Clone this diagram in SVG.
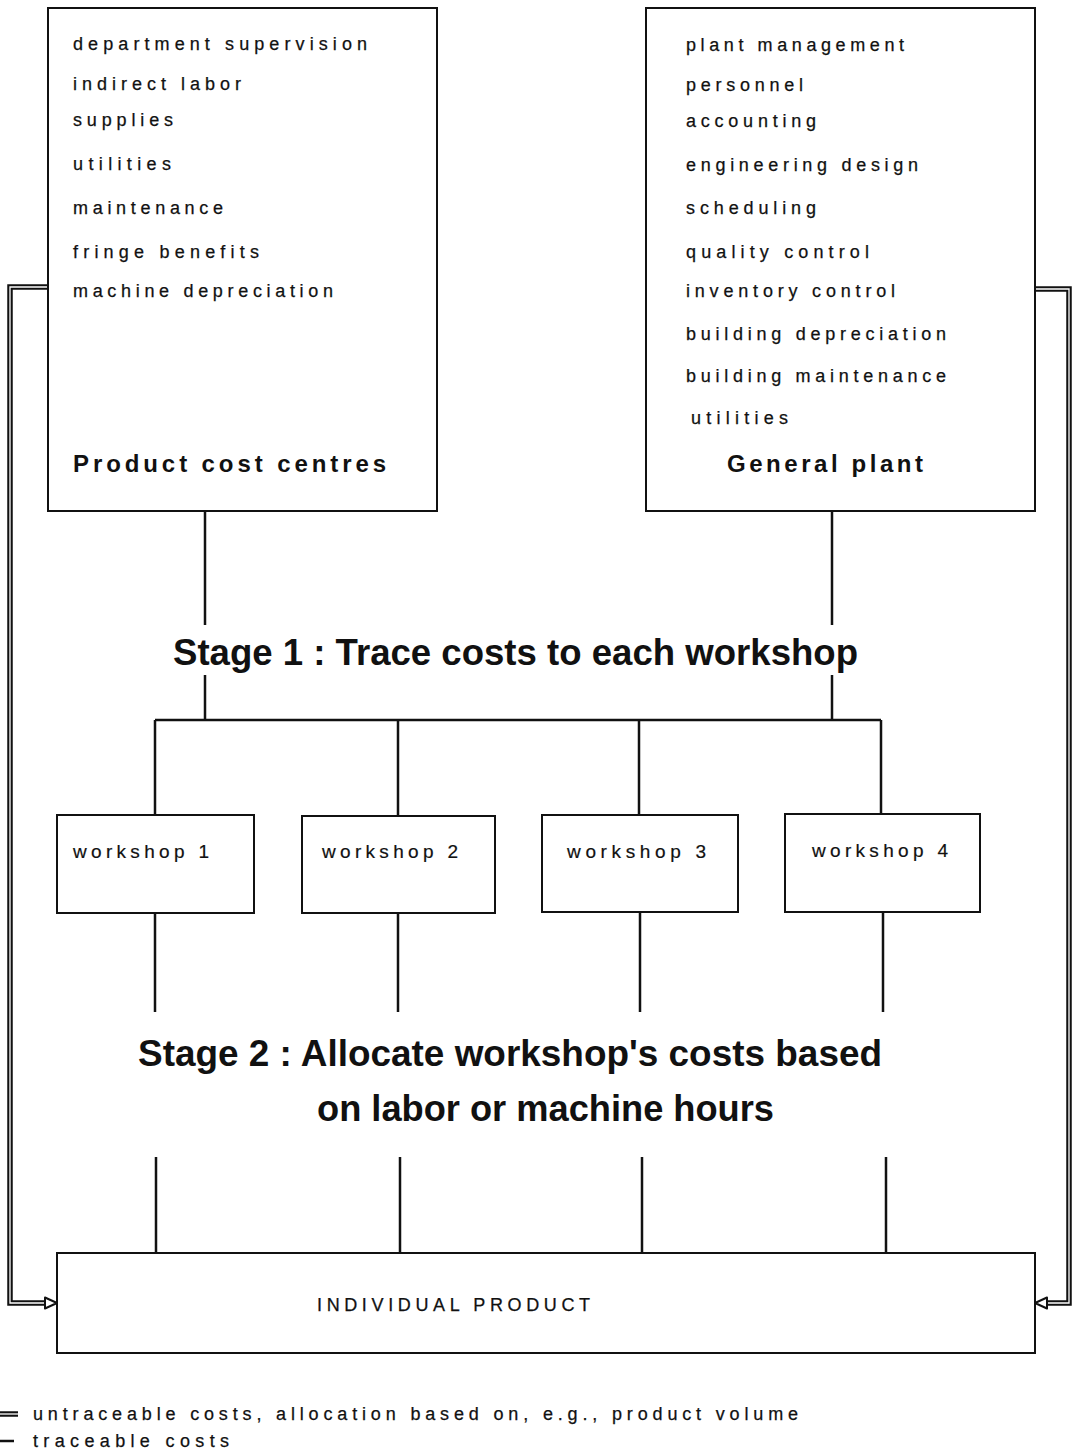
<svg xmlns="http://www.w3.org/2000/svg" width="1072" height="1451" viewBox="0 0 1072 1451">
<style>
.box{fill:#fff;stroke:#111;stroke-width:2}
.ln{fill:none;stroke:#111;stroke-width:2.5}
.dbl-o{fill:none;stroke:#111;stroke-width:5.5;stroke-linejoin:miter}
.dbl-i{fill:none;stroke:#fff;stroke-width:1.3;stroke-linejoin:miter}
.ah{fill:#fff;stroke:#111;stroke-width:2;stroke-linejoin:round}
.t{font-family:"Liberation Sans",Arial,sans-serif;font-size:18px;fill:#111;stroke:#111;stroke-width:0.25}
.b{font-family:"Liberation Sans",Arial,sans-serif;font-size:24px;font-weight:bold;fill:#111}
.w{font-family:"Liberation Sans",Arial,sans-serif;font-size:19px;fill:#111;stroke:#111;stroke-width:0.2}
.s{font-family:"Liberation Sans",Arial,sans-serif;font-size:36px;font-weight:bold;fill:#111}
</style>
<rect width="1072" height="1451" fill="#fff"/>

<g id="connectors">
  <path class="ln" d="M205,512 V625 M205,675 V720 M832,512 V625 M832,675 V720"/>
  <path class="ln" d="M155,720 H881 M155,720 V815 M398,720 V816 M639,720 V815 M881,720 V814"/>
  <path class="ln" d="M155,913 V1012 M398,913 V1012 M640,912 V1012 M883,912 V1012"/>
  <path class="ln" d="M156,1157 V1253 M400,1157 V1253 M642,1157 V1253 M886,1157 V1253"/>
  <path class="dbl-o" d="M48,287 H10 V1303 H47"/>
  <path class="dbl-i" d="M49,287 H10 V1303 H48"/>
  <path class="ah" d="M45,1297.5 L57,1303 L45,1308.5 Z"/>
  <path class="dbl-o" d="M1036,289 H1069 V1303 H1046"/>
  <path class="dbl-i" d="M1035,289 H1069 V1303 H1045"/>
  <path class="ah" d="M1047,1297.5 L1035,1303 L1047,1308.5 Z"/>
</g>

<g id="product-cost-centres">
  <rect class="box" x="48" y="8" width="389" height="503"/>
  <text class="t" x="73" y="50" textLength="294" lengthAdjust="spacing">department supervision</text>
  <text class="t" x="73" y="90" textLength="168" lengthAdjust="spacing">indirect labor</text>
  <text class="t" x="73" y="126" textLength="100" lengthAdjust="spacing">supplies</text>
  <text class="t" x="73" y="170" textLength="98" lengthAdjust="spacing">utilities</text>
  <text class="t" x="73" y="214" textLength="150" lengthAdjust="spacing">maintenance</text>
  <text class="t" x="73" y="258" textLength="186" lengthAdjust="spacing">fringe benefits</text>
  <text class="t" x="73" y="297" textLength="260" lengthAdjust="spacing">machine depreciation</text>
  <text class="b" x="73" y="472" textLength="313" lengthAdjust="spacing">Product cost centres</text>
</g>

<g id="general-plant">
  <rect class="box" x="646" y="8" width="389" height="503"/>
  <text class="t" x="686" y="51" textLength="218" lengthAdjust="spacing">plant management</text>
  <text class="t" x="686" y="91" textLength="117" lengthAdjust="spacing">personnel</text>
  <text class="t" x="686" y="127" textLength="130" lengthAdjust="spacing">accounting</text>
  <text class="t" x="686" y="171" textLength="232" lengthAdjust="spacing">engineering design</text>
  <text class="t" x="686" y="214" textLength="130" lengthAdjust="spacing">scheduling</text>
  <text class="t" x="686" y="258" textLength="183" lengthAdjust="spacing">quality control</text>
  <text class="t" x="686" y="297" textLength="209" lengthAdjust="spacing">inventory control</text>
  <text class="t" x="686" y="340" textLength="260" lengthAdjust="spacing">building depreciation</text>
  <text class="t" x="686" y="382" textLength="260" lengthAdjust="spacing">building maintenance</text>
  <text class="t" x="691" y="424" textLength="97" lengthAdjust="spacing">utilities</text>
  <text class="b" x="727" y="472" textLength="196" lengthAdjust="spacing">General plant</text>
</g>

<g id="stage1">
  <text class="s" x="173" y="665" textLength="685" lengthAdjust="spacingAndGlyphs">Stage 1 : Trace costs to each workshop</text>
</g>

<g id="workshop1">
  <rect class="box" x="57" y="815" width="197" height="98"/>
  <text class="w" x="73" y="858" textLength="136" lengthAdjust="spacing">workshop 1</text>
</g>
<g id="workshop2">
  <rect class="box" x="302" y="816" width="193" height="97"/>
  <text class="w" x="322" y="858" textLength="136" lengthAdjust="spacing">workshop 2</text>
</g>
<g id="workshop3">
  <rect class="box" x="542" y="815" width="196" height="97"/>
  <text class="w" x="567" y="858" textLength="139" lengthAdjust="spacing">workshop 3</text>
</g>
<g id="workshop4">
  <rect class="box" x="785" y="814" width="195" height="98"/>
  <text class="w" x="812" y="857" textLength="136" lengthAdjust="spacing">workshop 4</text>
</g>

<g id="stage2">
  <text class="s" x="138" y="1066" textLength="744" lengthAdjust="spacingAndGlyphs">Stage 2 : Allocate workshop's costs based</text>
  <text class="s" x="317" y="1121" textLength="457" lengthAdjust="spacingAndGlyphs">on labor or machine hours</text>
</g>

<g id="individual-product">
  <rect class="box" x="57" y="1253" width="978" height="100"/>
  <text class="t" x="317" y="1311" textLength="273" lengthAdjust="spacing">INDIVIDUAL PRODUCT</text>
</g>

<g id="legend">
  <path class="dbl-o" d="M0,1414 H18"/>
  <path class="dbl-i" d="M0,1414 H18"/>
  <path class="ln" d="M0,1441 H14"/>
  <text class="t" x="33" y="1420" textLength="765" lengthAdjust="spacing">untraceable costs, allocation based on, e.g., product volume</text>
  <text class="t" x="33" y="1447" textLength="196" lengthAdjust="spacing">traceable costs</text>
</g>
</svg>
